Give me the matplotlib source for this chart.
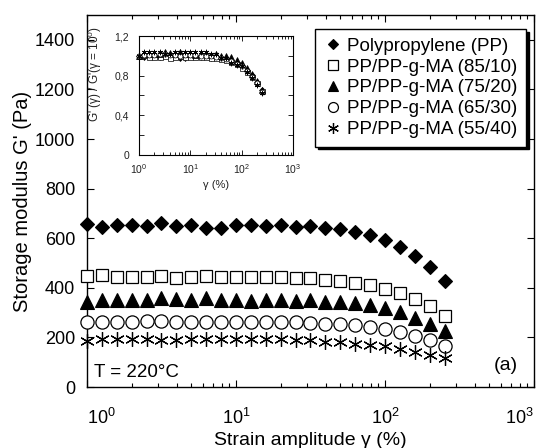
import matplotlib
matplotlib.use('Agg')
import matplotlib.pyplot as plt
import numpy as np

plt.rcParams['font.family'] = ['Liberation Sans', 'DejaVu Sans']
plt.rcParams['mathtext.default'] = 'regular'

# ---- data ----
strain = [1.0, 1.26, 1.58, 2.0, 2.51, 3.16, 3.98, 5.01, 6.31, 7.94, 10.0, 12.6, 15.8,
          20.0, 25.1, 31.6, 39.8, 50.1, 63.1, 79.4, 100.0, 126.0, 158.0, 200.0, 251.0]
g_pp = [657, 647, 653, 655, 650, 661, 650, 653, 643, 643, 655, 655, 650, 655, 645,
        650, 642, 637, 623, 612, 591, 563, 527, 485, 429]
g_85_10 = [449, 452, 445, 442, 445, 448, 438, 444, 446, 445, 442, 442, 442, 442, 441,
           438, 433, 429, 419, 411, 395, 378, 355, 326, 288]
g_75_20 = [344, 351, 351, 351, 351, 358, 355, 351, 358, 351, 351, 348, 351, 352, 348,
           351, 344, 344, 339, 331, 318, 302, 280, 255, 224]
g_65_30 = [261, 264, 264, 264, 267, 267, 264, 264, 261, 264, 264, 264, 261, 261, 261,
           259, 256, 253, 248, 240, 233, 220, 205, 190, 166]
g_55_40 = [185, 192, 192, 192, 192, 188, 188, 192, 192, 192, 192, 192, 192, 192, 188,
           188, 181, 181, 172, 168, 166, 154, 143, 130, 115]

labels = ['Polypropylene (PP)', 'PP/PP-g-MA (85/10)', 'PP/PP-g-MA (75/20)',
          'PP/PP-g-MA (65/30)', 'PP/PP-g-MA (55/40)']
series = [g_pp, g_85_10, g_75_20, g_65_30, g_55_40]
xtick_vals = [1, 10, 100, 1000]
xtick_labels = ['$10^{0}$', '$10^{1}$', '$10^{2}$', '$10^{3}$']

styles = [
    dict(marker='D', ms=6.8, mfc='black', mec='black', mew=0.8),
    dict(marker='s', ms=9, mfc='white', mec='black', mew=0.9),
    dict(marker='^', ms=9.5, mfc='black', mec='black', mew=0.8),
    dict(marker='o', ms=9.5, mfc='white', mec='black', mew=0.9),
    dict(marker=(6, 2, 0), ms=10.5, mfc='black', mec='black', mew=0.9),
]

fig = plt.figure(figsize=(5.44, 4.48), dpi=100)
ax = fig.add_axes([87/544, 61/448, 447/544, 372/448])

for s, lab, st in zip(series, labels, styles):
    ax.plot(strain, s, ls='none', label=lab, clip_on=False, zorder=3, **st)

ax.set_xscale('log')
ax.set_xlim(1, 1000)
ax.set_ylim(0, 1500)
ax.set_yticks([0, 200, 400, 600, 800, 1000, 1200, 1400])
ax.set_xticks(xtick_vals, labels=xtick_labels)
ax.tick_params(which='both', direction='in', top=True, right=True, width=0.8)
ax.tick_params(which='major', length=5)
ax.tick_params(which='minor', length=3)
ax.tick_params(axis='y', labelsize=13, pad=8.5)
ax.tick_params(axis='x', labelsize=13, pad=15)
tl = ax.get_xticklabels()
tl[0].set_ha('left')
tl[-1].set_ha('right')
for sp in ax.spines.values():
    sp.set_linewidth(1.0)

ax.set_xlabel('Strain amplitude γ (%)', fontsize=14, labelpad=3)
ax.set_ylabel("Storage modulus G' (Pa)", fontsize=14.5, labelpad=2)

ax.text(0.015, 0.040, 'T = 220°C', transform=ax.transAxes, fontsize=13.5,
        ha='left', va='center')
ax.text(0.965, 0.058, '(a)', transform=ax.transAxes, fontsize=14,
        ha='right', va='center')

leg = ax.legend(loc='upper right', bbox_to_anchor=(0.982, 0.962), borderaxespad=0,
                fontsize=13.5, frameon=True, fancybox=False, framealpha=1,
                edgecolor='black', markerscale=0.75, handlelength=1.0,
                handletextpad=0.25, borderpad=0.45, labelspacing=0.2,
                shadow={'facecolor': 'black', 'edgecolor': 'black', 'alpha': 1})
leg.get_frame().set_linewidth(1.0)

# ---- inset ----
axin = fig.add_axes([139/544, (448-155)/448, 154/544, 119/448])
in_styles = [
    dict(marker='D', ms=3.0, mfc='black', mec='black', mew=0.5),
    dict(marker='s', ms=3.6, mfc='white', mec='black', mew=0.5),
    dict(marker='^', ms=3.8, mfc='black', mec='black', mew=0.5),
    dict(marker='o', ms=3.6, mfc='white', mec='black', mew=0.5),
    dict(marker=(6, 2, 0), ms=4, mfc='black', mec='black', mew=0.5),
]
for s, st in zip(series, in_styles):
    arr = np.asarray(s, dtype=float)
    axin.plot(strain, arr / arr[0], ls='none', clip_on=False, **st)

axin.set_xscale('log')
axin.set_xlim(1, 1000)
axin.set_ylim(0, 1.2)
axin.set_yticks([0, 0.2, 0.4, 0.6, 0.8, 1.0, 1.2])
axin.set_yticklabels(['0', '', '0,4', '', '0,8', '', '1,2'])
axin.tick_params(which='both', direction='in', top=True, right=True, width=0.6,
                 labelsize=7.5, labelcolor='#222222')
axin.tick_params(which='major', length=3.5)
axin.tick_params(which='minor', length=2)
axin.tick_params(axis='y', pad=7)
axin.tick_params(axis='x', pad=5)
for sp in axin.spines.values():
    sp.set_linewidth(0.8)
axin.set_xlabel('γ (%)', fontsize=8, color='#222222', labelpad=3)
axin.set_ylabel("G' (γ) / G'(γ = 10$^{0}$)", fontsize=8.5, color='#222222')
axin.yaxis.set_label_coords(-0.23, 0.68)

fig.savefig('out.png', dpi=100)
